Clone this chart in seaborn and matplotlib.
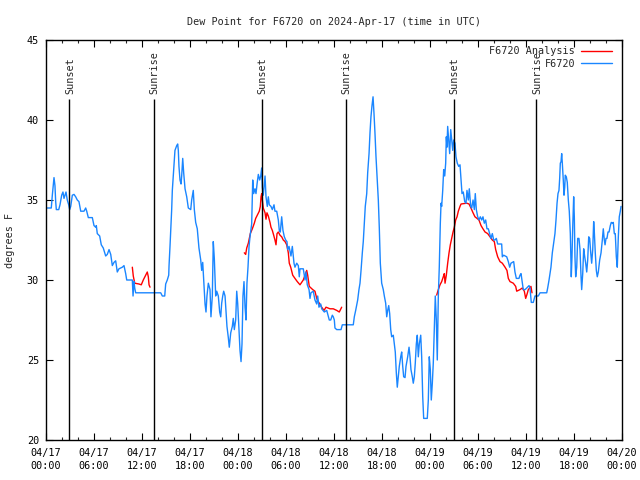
import matplotlib
matplotlib.use("Agg")
import matplotlib.pyplot as plt
from matplotlib.lines import Line2D
import pandas as pd
import seaborn as sns

# ---------------- data ----------------
title = "Dew Point for F6720 on 2024-Apr-17 (time in UTC)"
y_label = "degrees F"
obs_name = "F6720"
ana_name = "F6720 Analysis"

# hours since 2024-04-17 00:00 UTC
obs_hours = [
    0.16, 0.66, 0.79, 1.0, 1.12, 1.21, 1.29, 1.59, 1.75, 1.96, 2.12, 2.25, 2.5, 2.66, 2.84, 2.96,
    3.09, 3.29, 3.5, 3.71, 3.91, 4.12, 4.34, 4.75, 4.96, 5.09, 5.29, 5.79, 6.0, 6.21, 6.29, 6.41,
    6.71, 6.91, 7.16, 7.46, 7.66, 7.88, 8.09, 8.29, 8.5, 8.71, 8.91, 9.12, 9.54, 9.75, 9.96, 10.09,
    10.79, 10.88, 11.0, 11.09, 11.21, 14.34, 14.54, 14.84, 14.96, 15.16, 15.34,
    15.38, 15.5, 15.71, 15.79, 15.91, 16.12, 16.34, 16.46, 16.54, 16.62, 16.75, 16.88, 16.96, 17.09,
    17.21, 17.38, 17.59, 17.79, 18.09, 18.21, 18.41, 18.54, 18.71, 18.91, 19.12, 19.34, 19.46, 19.59,
    19.71, 19.88, 20.0, 20.12, 20.29, 20.5, 20.62, 20.79, 20.91, 21.04, 21.21, 21.34, 21.54, 21.71,
    21.84, 21.96, 22.09, 22.21, 22.38, 22.5, 22.62, 22.79, 22.91, 23.09, 23.29, 23.41, 23.54, 23.71,
    23.84, 23.96, 24.12, 24.25, 24.38, 24.5, 24.62, 24.75, 24.88, 25.0, 25.12, 25.25, 25.38, 25.5,
    25.71, 25.84, 25.96, 26.12, 26.25, 26.38, 26.54, 26.71, 26.84, 26.96, 27.04, 27.16, 27.38, 27.5,
    27.66, 27.79, 27.91, 28.12, 28.29, 28.5, 28.62, 28.84, 29.04, 29.16, 29.29, 29.46, 29.62, 29.79,
    29.96, 30.12, 30.21, 30.38, 30.62, 30.79, 31.0, 31.12, 31.34, 31.54, 31.66, 31.75, 32.16, 32.38,
    32.5, 32.66, 32.88, 33.0, 33.12, 33.41, 33.62, 33.84, 33.96, 34.12, 34.34, 34.46, 34.79, 35.09,
    35.41, 35.59, 35.79, 35.91, 36.04, 36.12, 36.34, 36.88, 37.04, 38.41, 38.54, 38.71, 38.96, 39.12,
    39.25, 39.38, 39.54, 39.66, 39.79, 39.91, 40.09, 40.21, 40.38, 40.5, 40.62, 40.75, 40.88, 41.0,
    41.12, 41.25, 41.38, 41.54, 41.66, 41.79, 41.96, 42.16, 42.29, 42.46, 42.59, 42.71, 42.84, 42.96,
    43.09, 43.21, 43.41, 43.54, 43.66, 43.79, 43.91, 44.04, 44.16, 44.34, 44.46, 44.59, 44.71, 44.88,
    45.0, 45.21, 45.38, 45.5, 45.62, 45.79, 45.91, 46.04, 46.16, 46.29, 46.41, 46.54, 46.66, 46.84,
    46.96, 47.09, 47.21, 47.66, 47.79, 47.91, 48.04, 48.16, 48.29, 48.41, 48.54, 48.66, 48.79, 48.91,
    49.04, 49.16, 49.29, 49.38, 49.46, 49.59, 49.71, 49.84, 49.96, 50.04, 50.12, 50.21, 50.34, 50.46,
    50.59, 50.71, 50.84, 50.96, 51.12, 51.25, 51.41, 51.59, 51.75, 51.88, 52.0, 52.16, 52.34, 52.5,
    52.62, 52.79, 52.91, 53.09, 53.21, 53.38, 53.54, 53.66, 53.79, 53.96, 54.12, 54.29, 54.46, 54.62,
    54.79, 54.96, 55.12, 55.29, 55.46, 55.62, 55.79, 55.96, 56.12, 56.29, 56.46, 56.96, 57.04, 57.21,
    57.59, 57.79, 57.96, 58.12, 58.46, 58.62, 58.79, 59.12, 59.25, 59.38, 59.54, 59.66, 59.88, 60.09,
    60.38, 60.5, 60.59, 60.66, 60.91, 61.04, 61.12, 61.54, 61.75, 62.59, 62.71, 62.88, 63.0, 63.12,
    63.29, 63.46, 63.62, 63.75, 63.88, 64.0, 64.12, 64.21, 64.29, 64.38, 64.46, 64.54, 64.66, 64.75,
    64.84, 64.91, 65.04, 65.16, 65.29, 65.41, 65.54, 65.66, 65.75, 65.84, 65.96, 66.04, 66.12, 66.21,
    66.34, 66.46, 66.62, 66.75, 66.88, 66.96, 67.09, 67.21, 67.34, 67.46, 67.59, 67.71, 67.84, 67.96,
    68.09, 68.21, 68.34, 68.46, 68.54, 68.66, 68.79, 68.91, 69.04, 69.21, 69.38, 69.54, 69.66, 69.79,
    69.88, 70.0, 70.12, 70.25, 70.38, 70.54, 70.66, 70.79, 70.91, 71.04, 71.16, 71.29, 71.41, 71.54,
    71.66, 71.79, 71.88,
]
obs_dewpoint = [
    34.5, 34.5, 35.3, 36.4, 35.9, 34.9, 34.4, 34.4, 34.7, 35.3, 35.5, 35.1, 35.5, 35.0, 34.7, 34.4,
    34.6, 35.3, 35.35, 35.2, 35.0, 34.9, 34.3, 34.3, 34.5, 34.3, 33.9, 33.9, 33.4, 33.3, 33.4, 32.9,
    32.75, 32.2, 32.0, 31.5, 31.6, 31.9, 31.6, 30.9, 31.1, 31.2, 30.5, 30.7, 30.8, 30.9, 30.4, 30.0,
    30.0, 29.0, 29.9, 29.5, 29.2, 29.2, 29.0, 29.0, 29.75, 30.0, 30.3,
    30.9, 32.1, 34.4, 35.6, 36.5, 38.1, 38.4, 38.5, 38.1, 37.1, 36.25, 36.0, 36.5, 37.6,
    36.7, 35.7, 35.2, 34.5, 34.4, 35.0, 35.6, 34.4, 33.6, 33.2, 32.0, 31.25, 30.6, 31.1,
    30.0, 28.5, 28.0, 29.0, 29.8, 29.4, 27.7, 29.0, 32.4, 31.35, 29.0, 29.3, 29.0, 28.0,
    27.7, 28.55, 29.0, 29.3, 29.0, 28.1, 27.1, 26.4, 25.8, 26.7, 27.1, 27.6, 26.9, 27.5,
    29.3, 28.55, 26.9, 25.6, 24.9, 26.0, 29.0, 29.9, 28.3, 27.5, 29.8, 30.8, 32.1, 32.7,
    33.5, 36.25, 35.4, 35.7, 35.4, 36.0, 36.6, 36.25, 36.5, 37.0, 35.8, 35.3, 36.5, 35.2,
    34.6, 35.2, 34.7, 34.6, 34.4, 34.7, 34.3, 34.3, 33.75, 33.1, 33.0, 33.95, 33.1, 32.7,
    32.5, 32.4, 31.9, 32.1, 31.5, 32.1, 31.05, 30.8, 31.05, 30.9, 30.2, 30.7, 30.7, 30.0,
    30.5, 29.7, 29.4, 28.85, 29.2, 29.3, 28.75, 28.5, 29.0, 28.3, 28.5, 28.2, 28.0, 28.1,
    27.5, 27.5, 27.8, 27.7, 27.5, 27.0, 26.9, 26.9, 27.2, 27.2, 27.7, 28.1, 28.75, 29.4,
    29.8, 30.6, 31.7, 32.4, 33.6, 34.6, 35.4, 36.7, 37.9, 39.2, 40.2, 40.9, 41.45, 40.4,
    39.2, 37.7, 36.5, 35.0, 33.3, 31.05, 29.8, 29.4, 29.0, 28.55, 27.7, 28.1, 28.4, 27.9,
    26.9, 26.45, 26.55, 26.0, 25.5, 24.2, 23.3, 23.95, 24.6, 25.2, 25.5, 24.6, 23.95, 23.9,
    24.6, 25.2, 25.8, 25.2, 24.4, 23.95, 23.55, 23.95, 24.8, 26.0, 26.55, 25.2, 26.0, 26.55,
    25.2, 22.7, 21.35, 21.35, 22.5, 25.2, 24.4, 22.5, 23.55, 24.8, 26.9, 29.0, 27.5, 25.0,
    29.0, 30.8, 33.55, 34.8, 34.6, 35.6, 36.9, 36.5, 37.3, 38.95, 38.3, 39.6, 38.75, 37.9,
    39.4, 38.75, 38.1, 38.75, 38.55, 37.7, 37.3, 37.1, 37.2, 36.25, 35.4, 35.5, 34.9, 34.8,
    35.6, 35.0, 35.7, 34.6, 34.5, 35.0, 34.4, 35.4, 34.4, 33.95, 33.75, 33.95, 33.75, 33.95,
    33.55, 33.75, 33.2, 33.2, 32.9, 32.6, 32.9, 32.5, 32.5, 32.6, 32.25, 32.25, 31.45, 31.55,
    31.45, 31.15, 30.8, 31.05, 31.15, 30.5, 30.1, 30.1, 30.3, 30.4, 29.8, 29.4, 29.4, 29.5,
    29.65, 29.5, 29.0, 28.6, 28.6, 28.85, 29.0, 29.0, 29.2, 29.2, 29.5, 30.0, 30.4, 30.8,
    31.7, 32.3, 32.9, 33.75, 34.8, 35.4, 35.6, 36.35, 37.3, 37.4, 37.9, 37.3, 36.25, 35.3,
    35.8, 36.55, 36.45, 36.1, 35.0, 34.3, 32.9, 30.2, 31.45, 33.3, 35.2, 33.95, 31.45, 30.2,
    30.8, 32.6, 32.6, 31.9, 30.2, 29.4, 30.4, 31.95, 31.45, 31.05, 30.5, 31.25, 32.7, 32.6,
    31.7, 31.05, 31.9, 33.65, 33.0, 31.7, 30.6, 30.2, 30.5, 31.25, 31.7, 32.5, 33.2, 32.5,
    32.2, 32.6, 32.6, 33.0, 33.0, 33.4, 33.6, 33.55, 33.6, 32.9, 32.9, 31.45, 30.8, 32.7,
    33.95, 34.3, 34.6,
]

ana_hours = [
    10.79, 10.91, 11.09, 11.62, 11.91, 12.16, 12.46, 12.66, 12.79, 12.88, 13.0,
    24.79, 24.96, 25.09, 25.29, 25.54, 25.79, 26.04, 26.21, 26.46, 26.66, 26.79, 26.88, 26.96,
    27.04, 27.16, 27.38, 27.5, 27.62, 27.79, 28.0, 28.12, 28.29, 28.46, 28.62, 28.75, 28.88,
    29.04, 29.25, 29.46, 29.66, 29.88, 30.09, 30.29, 30.41, 30.59, 30.84, 31.12, 31.41, 31.75,
    32.16, 32.59, 32.71, 32.91, 33.34, 33.62, 33.84, 34.04, 34.46, 34.75, 35.0, 35.5, 35.91,
    36.34, 36.66, 36.96,
    48.84, 49.04, 49.25, 49.46, 49.66, 49.79, 49.88, 50.04, 50.21, 50.38, 50.54, 50.71, 50.88,
    51.04, 51.21, 51.38, 51.54, 51.75, 51.88, 52.59, 52.88, 53.12, 53.38, 53.62, 53.88, 54.12,
    54.38, 54.62, 54.88, 55.21, 55.5, 55.79, 56.04, 56.21, 56.46, 56.75, 57.04, 57.38, 57.62,
    57.79, 58.0, 58.41, 58.71, 58.84, 59.25, 59.54, 59.79, 59.96, 60.12, 60.29, 60.46, 60.62, 60.75,
]
ana_dewpoint = [
    30.8, 30.25, 29.8, 29.75, 29.7, 30.0, 30.3, 30.5, 30.2, 29.7, 29.55,
    31.7, 31.6, 32.0, 32.3, 32.9, 33.2, 33.55, 33.85, 34.1, 34.3, 34.6, 35.2, 35.4,
    35.0, 34.5, 34.2, 33.8, 34.2, 34.0, 33.6, 33.3, 33.1, 32.8, 32.5, 32.2, 32.9,
    33.0, 32.8, 32.7, 32.5, 32.4, 32.2, 31.7, 31.05, 30.8, 30.3, 30.1, 29.9, 29.7,
    30.0, 30.6, 30.3, 29.6, 29.4, 29.3, 28.85, 28.65, 28.3, 28.1, 28.3, 28.2, 28.2,
    28.1, 28.0, 28.3,
    29.06, 29.4, 29.7, 29.9, 30.2, 30.4, 29.8, 30.3, 31.05, 31.7, 32.2, 32.6, 33.0,
    33.3, 33.75, 33.95, 34.3, 34.6, 34.75, 34.8, 34.75, 34.5, 34.2, 33.95, 33.85, 33.75,
    33.4, 33.2, 33.0, 32.9, 32.7, 32.5, 32.4, 31.9, 31.45, 31.15, 31.05, 30.8, 30.6,
    30.1, 29.9, 29.8, 29.6, 29.3, 29.4, 29.5, 29.3, 28.85, 29.1, 29.4, 29.5, 29.6, 29.2,
]
ana_segment = [1] * 11 + [2] * 55 + [3] * 53

sun_hours = [2.9, 13.44, 26.94, 37.44, 50.94, 61.31]
sun_labels = ["Sunset", "Sunrise", "Sunset", "Sunrise", "Sunset", "Sunrise"]

tick_hours = list(range(0, 73, 6))
tick_labels = ["04/17\n00:00", "04/17\n06:00", "04/17\n12:00", "04/17\n18:00",
               "04/18\n00:00", "04/18\n06:00", "04/18\n12:00", "04/18\n18:00",
               "04/19\n00:00", "04/19\n06:00", "04/19\n12:00", "04/19\n18:00",
               "04/20\n00:00"]
y_ticks = [20, 25, 30, 35, 40, 45]

# ---------------- plot ----------------
sns.set_theme(style="white")
plt.rcParams["font.family"] = ["DejaVu Sans Mono"]
FS = 7.3
blue = "#1a86ff"

obs = pd.DataFrame({"hours": obs_hours, "dewpoint": obs_dewpoint})
ana = pd.DataFrame({"hours": ana_hours, "dewpoint": ana_dewpoint, "segment": ana_segment})

fig = plt.figure(figsize=(6.4, 4.8), dpi=100)
ax = fig.add_axes([46 / 640, 40 / 480, 576 / 640, 400 / 480])

sns.lineplot(data=ana, x="hours", y="dewpoint", units="segment", estimator=None,
             color="red", lw=1.0, ax=ax, legend=False)
sns.lineplot(data=obs, x="hours", y="dewpoint", estimator=None,
             color=blue, lw=1.0, ax=ax, legend=False)

ax.vlines(sun_hours, 20, 41.3, color="black", lw=1.0, zorder=3)
for h, lab in zip(sun_hours, sun_labels):
    ax.text(h + 0.1, 41.65, lab, rotation=90, ha="center", va="bottom", fontsize=FS)

ax.set_xlim(0, 72)
ax.set_ylim(20, 45)
ax.set_xticks(tick_hours)
ax.set_xticklabels(tick_labels, fontsize=FS, linespacing=1.3)
ax.set_xticks(range(0, 73, 2), minor=True)
ax.set_yticks(y_ticks)
ax.set_yticklabels([str(v) for v in y_ticks], fontsize=FS)
ax.tick_params(which="major", direction="in", length=5, width=0.8, top=True, right=True,
               bottom=True, left=True, colors="black", pad=5)
ax.tick_params(axis="x", which="minor", direction="in", length=2.5, width=0.8, top=True,
               bottom=True)
ax.tick_params(axis="x", which="major", pad=6)
for s in ax.spines.values():
    s.set_color("black")
    s.set_linewidth(1.0)

ax.set_xlabel("")
ax.set_ylabel(y_label, fontsize=FS)
ax.yaxis.set_label_coords(-0.054, 0.5)
ax.set_title(title, fontsize=FS, pad=11)

handles = [Line2D([], [], color="red", lw=1.0), Line2D([], [], color=blue, lw=1.0)]
ax.legend(handles, [ana_name, obs_name], loc="upper right", bbox_to_anchor=(0.982, 0.984),
          frameon=False, markerfirst=False, fontsize=FS, handlelength=3.0,
          handletextpad=0.6, labelspacing=0.25, borderpad=0.0, borderaxespad=0.0)

fig.savefig("out.png", dpi=100)
